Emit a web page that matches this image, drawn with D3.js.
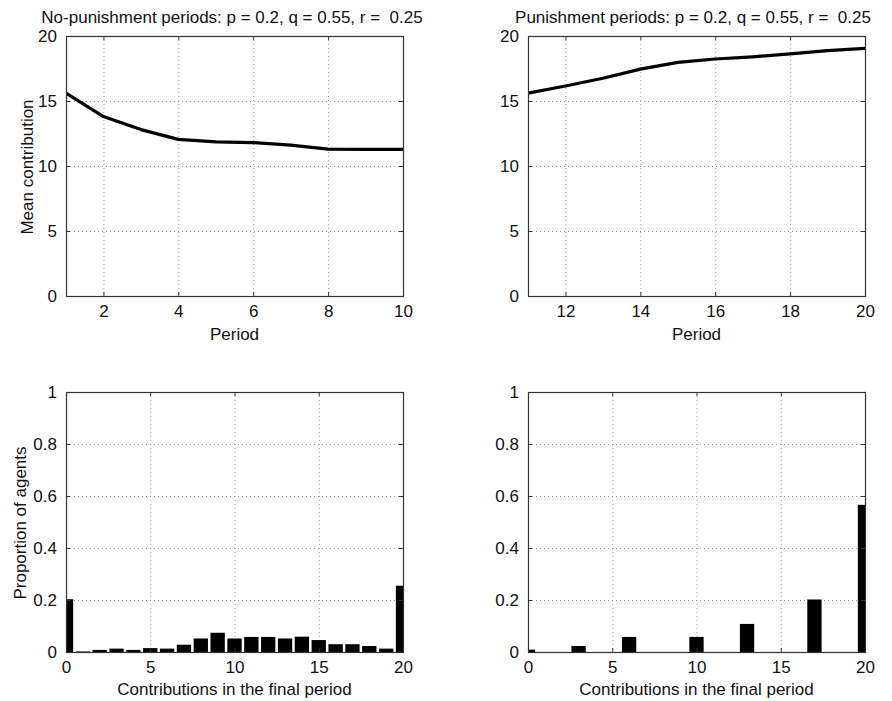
<!DOCTYPE html>
<html>
<head>
<meta charset="utf-8">
<script src="https://cdn.jsdelivr.net/npm/d3@7"></script>
<style>
  html, body { margin: 0; padding: 0; background: #fff; }
  svg text { font-family: "Liberation Sans", Arial, Helvetica, sans-serif; fill: #111; white-space: pre; }
</style>
</head>
<body>
<svg id="fig" width="892" height="701"></svg>
<script>
// Mean contribution per period
const periodsNoPun = [1, 2, 3, 4, 5, 6, 7, 8, 9, 10];
const meanNoPun = [15.6, 13.8, 12.8, 12.05, 11.85, 11.8, 11.6, 11.3, 11.28, 11.28];
const periodsPun = [11, 12, 13, 14, 15, 16, 17, 18, 19, 20];
const meanPun = [15.6, 16.15, 16.75, 17.45, 17.97, 18.23, 18.4, 18.63, 18.87, 19.05];

// Distribution of contributions in the final period
const contribLevels = [0, 1, 2, 3, 4, 5, 6, 7, 8, 9, 10, 11, 12, 13, 14, 15, 16, 17, 18, 19, 20];
const propNoPun = [0.203, 0.002, 0.008, 0.013, 0.008, 0.015, 0.013, 0.028, 0.052, 0.074, 0.052,
                   0.058, 0.058, 0.052, 0.059, 0.046, 0.030, 0.030, 0.023, 0.013, 0.255];
const propPun = [0.009, 0, 0, 0.023, 0, 0, 0.058, 0, 0, 0, 0.058,
                 0, 0, 0.108, 0, 0, 0, 0.202, 0, 0, 0.566];

// Tick values and labels
const ticksMeanY = [0, 5, 10, 15, 20];
const ticksNoPunX = [2, 4, 6, 8, 10];
const ticksPunX = [12, 14, 16, 18, 20];
const ticksContribX = [0, 5, 10, 15, 20];
const ticksPropY = [0, 0.2, 0.4, 0.6, 0.8, 1];

const titleNoPun = "No-punishment periods: p = 0.2, q = 0.55, r =  0.25";
const titlePun = "Punishment periods: p = 0.2, q = 0.55, r =  0.25";

const svg = d3.select("#fig");
const FS = 17;
const axisColor = "#333";
const gridColor = "#9a9a9a";

let clipId = 0;

function panel(opts) {
  const { left, top, width, height, xDomain, yDomain, xTicks, yTicks, yFmt } = opts;
  const x = d3.scaleLinear().domain(xDomain).range([left, left + width]);
  const y = d3.scaleLinear().domain(yDomain).range([top + height, top]);
  const g = svg.append("g");

  // dotted grid at interior ticks
  g.append("g").selectAll("line.gx")
    .data(xTicks.filter(t => t > xDomain[0] && t < xDomain[1]))
    .join("line")
    .attr("x1", d => x(d) + 0.5).attr("x2", d => x(d) + 0.5)
    .attr("y1", top).attr("y2", top + height)
    .attr("stroke", gridColor).attr("stroke-width", 1)
    .attr("stroke-dasharray", "1,3");
  g.append("g").selectAll("line.gy")
    .data(yTicks.filter(t => t > yDomain[0] && t < yDomain[1]))
    .join("line")
    .attr("y1", d => y(d) + 0.5).attr("y2", d => y(d) + 0.5)
    .attr("x1", left).attr("x2", left + width)
    .attr("stroke", gridColor).attr("stroke-width", 1)
    .attr("stroke-dasharray", "1,3");

  const id = "clip" + (clipId++);
  svg.append("clipPath").attr("id", id)
    .append("rect").attr("x", left).attr("y", top).attr("width", width).attr("height", height);
  const plot = g.append("g").attr("clip-path", `url(#${id})`);

  // axes on all four sides with inward ticks, labels bottom and left
  const tickLen = 4;
  const xAxisB = d3.axisBottom(x).tickValues(xTicks).tickSize(-tickLen).tickPadding(tickLen + 5)
    .tickFormat(d3.format("d"));
  const xAxisT = d3.axisTop(x).tickValues(xTicks).tickSize(-tickLen).tickFormat("");
  const yAxisL = d3.axisLeft(y).tickValues(yTicks).tickSize(-tickLen).tickPadding(tickLen + 5)
    .tickFormat(yFmt);
  const yAxisR = d3.axisRight(y).tickValues(yTicks).tickSize(-tickLen).tickFormat("");

  const styleAxis = sel => {
    sel.select(".domain").remove();
    sel.selectAll(".tick line").attr("stroke", axisColor);
    sel.selectAll(".tick text").attr("font-size", FS).attr("fill", "#111")
      .attr("font-family", '"Liberation Sans", Arial, sans-serif');
  };
  g.append("g").attr("transform", `translate(0,${top + height})`).call(xAxisB).call(styleAxis);
  g.append("g").attr("transform", `translate(0,${top})`).call(xAxisT).call(styleAxis);
  g.append("g").attr("transform", `translate(${left},0)`).call(yAxisL).call(styleAxis);
  g.append("g").attr("transform", `translate(${left + width},0)`).call(yAxisR).call(styleAxis);

  return { x, y, g, plot, left, top, width, height };
}

function frame(p) {
  p.g.append("rect")
    .attr("x", p.left + 0.5).attr("y", p.top + 0.5)
    .attr("width", p.width).attr("height", p.height)
    .attr("fill", "none").attr("stroke", axisColor).attr("stroke-width", 1.2);
}

function lineChart(p, xs, ys) {
  const line = d3.line().x((d, i) => p.x(xs[i])).y(d => p.y(d)).curve(d3.curveLinear);
  p.plot.append("path").datum(ys)
    .attr("d", line)
    .attr("fill", "none").attr("stroke", "#000").attr("stroke-width", 3.2)
    .attr("stroke-linejoin", "round").attr("stroke-linecap", "round");
}

function barChart(p, xs, vals) {
  const bw = (p.x(1) - p.x(0)) * 0.85;
  p.plot.selectAll("rect.bar").data(vals).join("rect")
    .attr("class", "bar")
    .attr("x", (d, i) => p.x(xs[i]) - bw / 2)
    .attr("width", bw)
    .attr("y", d => p.y(d))
    .attr("height", d => p.y(0) - p.y(d))
    .attr("fill", "#000");
}

function title(cx, text) {
  svg.append("text").attr("x", cx).attr("y", 23).attr("text-anchor", "middle")
    .attr("font-size", FS).text(text);
}
function xLabel(p, text, dy) {
  svg.append("text").attr("x", p.left + p.width / 2).attr("y", p.top + p.height + dy)
    .attr("text-anchor", "middle").attr("font-size", FS).text(text);
}
function yLabel(x, cy, text) {
  svg.append("text").attr("transform", `translate(${x},${cy}) rotate(-90)`)
    .attr("text-anchor", "middle").attr("font-size", FS).text(text);
}

const W = 337, H = 260;
const fmtInt = d3.format("d");
const fmtProp = d => (d === 0 || d === 1) ? String(d) : d3.format(".1f")(d);

// Top left: mean contribution without punishment
const p1 = panel({ left: 66, top: 36, width: W, height: H, xDomain: [1, 10], yDomain: [0, 20],
  xTicks: ticksNoPunX, yTicks: ticksMeanY, yFmt: fmtInt });
lineChart(p1, periodsNoPun, meanNoPun);
frame(p1);
title(232, titleNoPun);
xLabel(p1, "Period", 44);
yLabel(33, 167, "Mean contribution");

// Top right: mean contribution with punishment
const p2 = panel({ left: 528, top: 36, width: W, height: H, xDomain: [11, 20], yDomain: [0, 20],
  xTicks: ticksPunX, yTicks: ticksMeanY, yFmt: fmtInt });
lineChart(p2, periodsPun, meanPun);
frame(p2);
title(693, titlePun);
xLabel(p2, "Period", 44);

// Bottom left: final-period contributions without punishment
const p3 = panel({ left: 66, top: 392, width: W, height: H, xDomain: [0, 20], yDomain: [0, 1],
  xTicks: ticksContribX, yTicks: ticksPropY, yFmt: fmtProp });
barChart(p3, contribLevels, propNoPun);
frame(p3);
xLabel(p3, "Contributions in the final period", 43);
yLabel(26, 523, "Proportion of agents");

// Bottom right: final-period contributions with punishment
const p4 = panel({ left: 528, top: 392, width: W, height: H, xDomain: [0, 20], yDomain: [0, 1],
  xTicks: ticksContribX, yTicks: ticksPropY, yFmt: fmtProp });
barChart(p4, contribLevels, propPun);
frame(p4);
xLabel(p4, "Contributions in the final period", 43);
</script>
</body>
</html>
